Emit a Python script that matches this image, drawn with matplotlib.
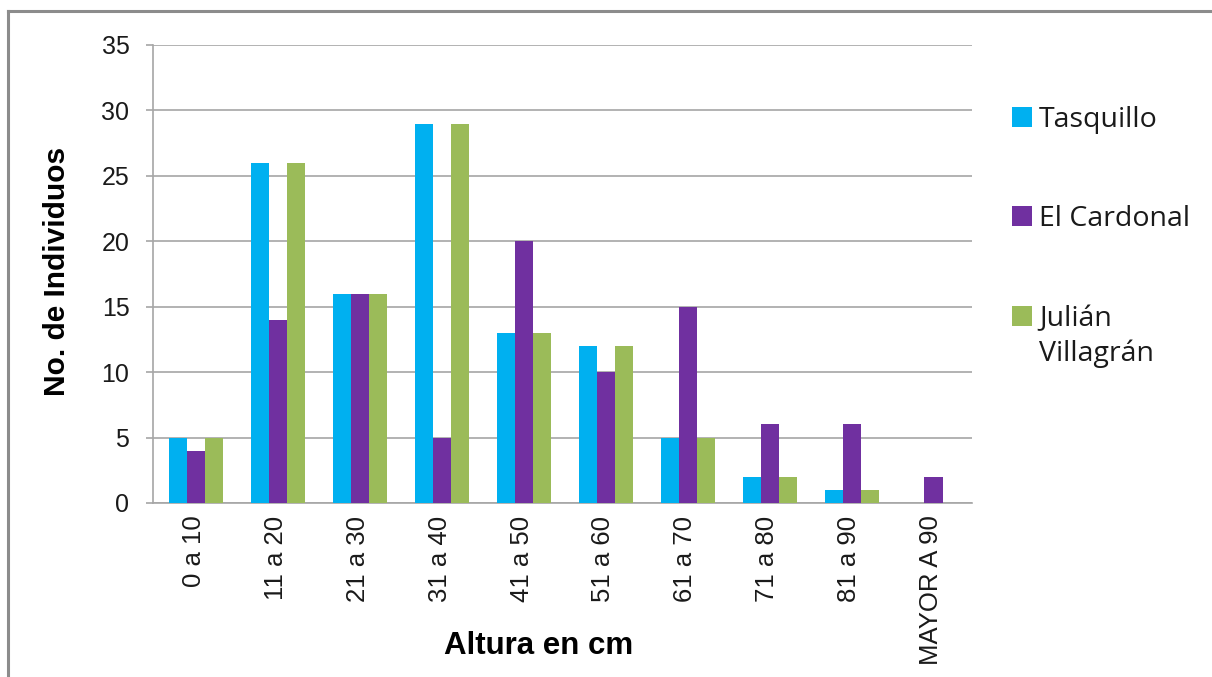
import numpy as np
import matplotlib
matplotlib.use("Agg")
import matplotlib.pyplot as plt
from matplotlib.patches import Rectangle
from matplotlib.lines import Line2D

# datos
categorias = ["0 a 10", "11 a 20", "21 a 30", "31 a 40", "41 a 50",
              "51 a 60", "61 a 70", "71 a 80", "81 a 90", "MAYOR A 90"]
tasquillo = [5, 26, 16, 29, 13, 12, 5, 2, 1, 0]
el_cardonal = [4, 14, 16, 5, 20, 10, 15, 6, 6, 2]
julian = [5, 26, 16, 29, 13, 12, 5, 2, 1, 0]
series = ["Tasquillo", "El Cardonal", "Julián\nVillagrán"]
colores = ["#00B0F0", "#7030A0", "#9BBB59"]
yticks = [0, 5, 10, 15, 20, 25, 30, 35]

plt.rcParams['font.family'] = ['Liberation Sans', 'DejaVu Sans']

W, H = 1212, 677
fig = plt.figure(figsize=(W / 100, H / 100), dpi=100)
ax = fig.add_axes([153 / W, 1 - 503 / H, 819 / W, 458 / H])

x = np.arange(len(categorias))
w = 0.22
for i, (vals, nombre, c) in enumerate(zip([tasquillo, el_cardonal, julian], series, colores)):
    ax.bar(x + (i - 1) * w + 0.03, vals, width=w, color=c, label=nombre, zorder=3)

ax.set_xlim(-0.5, len(categorias) - 0.5)
ax.set_ylim(0, 35)
ax.set_yticks(yticks)
ax.yaxis.grid(True, color="#A6A6A6", linewidth=1.2, zorder=0)
ax.set_xticks(x)
ax.set_xticklabels(categorias, rotation=90, fontsize=18.5, va="top", color="#1a1a1a")
ax.tick_params(axis="y", labelsize=18, length=5, color="#A6A6A6", width=1.2, pad=12,
               labelcolor="#1a1a1a")
ax.tick_params(axis="x", length=0, pad=9)
for s in ["top", "right"]:
    ax.spines[s].set_visible(False)
for s in ["left", "bottom"]:
    ax.spines[s].set_color("#A6A6A6")
    ax.spines[s].set_linewidth(1.2)

ax.set_ylabel("No. de Individuos", fontsize=21.5, fontweight="bold")
ax.yaxis.set_label_coords((57 - 153) / 819, (503 - 271) / 458)
ax.yaxis.label.set_verticalalignment("center")
ax.set_xlabel("Altura en cm", fontsize=22.5, fontweight="bold")
ax.xaxis.set_label_coords((539 - 153) / 819, (503 - 646) / 458)
ax.xaxis.label.set_verticalalignment("center")

# leyenda (a mano, el cuadro va con la primera linea del texto)
leg_y = [117, 216, 316]
for nombre, c, yy in zip(series, colores, leg_y):
    fig.patches.append(Rectangle((1012 / W, 1 - (yy + 10) / H), 20 / W, 20 / H,
                                 transform=fig.transFigure, facecolor=c, edgecolor="none"))
    fig.text(1039 / W, 1 - (yy - 11) / H, nombre, ha="left", va="top", fontsize=20.5,
             family=["Open Sans", "DejaVu Sans"], color="#1a1a1a", linespacing=1.32)

# marco exterior (solo arriba e izquierda se ven)
for xs, ys in [([7.5 / W, 1.0], [1 - 11 / H, 1 - 11 / H]), ([7.5 / W, 7.5 / W], [0.0, 1 - 11 / H])]:
    fig.lines.append(Line2D(xs, ys, transform=fig.transFigure, color="#8C8C8C", linewidth=2.2))

fig.savefig("out.png", dpi=100)
